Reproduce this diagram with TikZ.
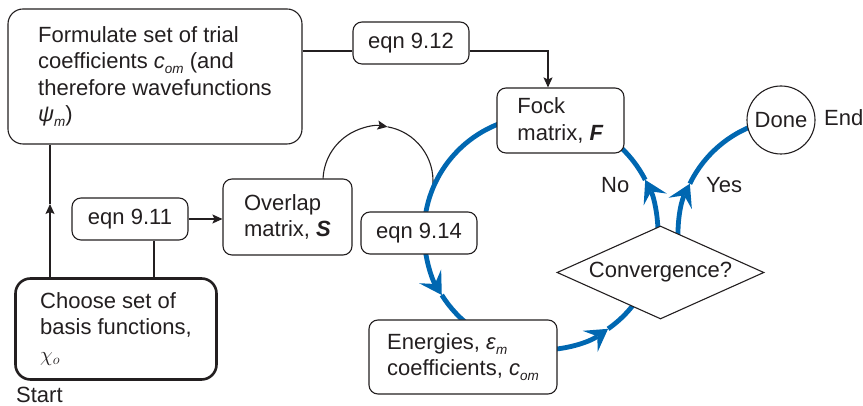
\documentclass[tikz,border=0pt]{standalone}
\usepackage{fontspec}
\setmainfont{Liberation Sans}
\usetikzlibrary{arrows.meta,shapes.geometric}
\definecolor{flowblue}{RGB}{0,103,177}
\definecolor{ink}{RGB}{35,31,32}
\newcommand\lowsub[1]{\raisebox{-5pt}{\fontsize{13.5}{13.5}\selectfont\itshape #1}}
\pgfdeclarelayer{background}
\pgfsetlayers{background,main}
\begin{document}
\begin{tikzpicture}[x=1pt,y=1pt,
  every node/.style={text=ink, font=\fontsize{22}{26.5}\selectfont},
  roundbox/.style={draw=ink, fill=white, line width=1.1pt, rounded corners=9pt, align=left, inner sep=0pt},
  eqnbox/.style={roundbox, minimum width=116pt, minimum height=42pt, align=center},
  plainconn/.style={draw=ink, line width=1.1pt},
  conn/.style={plainconn, -{Stealth[length=10pt,width=9pt,inset=2pt]}},
  blueflow/.style={draw=flowblue, line width=4.8pt},
  bluetip/.style={blueflow, -{Stealth[length=22pt,width=26pt,inset=9pt,line width=0pt]}},
]
\useasboundingbox (0,0) rectangle (863,406);

\node[roundbox, rounded corners=15pt, minimum width=294pt, minimum height=135pt] (formulate) at (155,329.5)
  {Formulate set of trial\\ coefficients \textit{c}\lowsub{om} (and\\ therefore wavefunctions\\ \textit{ψ}\lowsub{m})};
\node[eqnbox] (eqn912) at (411,363) {eqn 9.12};
\node[roundbox, minimum width=127pt, minimum height=65pt] (fock) at (560.5,285.5) {Fock\\ matrix, \textbf{\textit{F}}};
\node[draw=ink, fill=white, line width=1.1pt, circle, minimum size=68pt, inner sep=0pt] (done) at (781,286) {Done};
\node[anchor=base west, inner sep=0pt] (endlbl) at (824,280) {End};
\node[eqnbox] (eqn911) at (130,187) {eqn 9.11};
\node[roundbox, minimum width=129pt, minimum height=76pt] (overlap) at (287.5,189) {Overlap\\ matrix, \textbf{\textit{S}}};
\node[eqnbox] (eqn914) at (419,173) {eqn 9.14};
\node[roundbox, rounded corners=15pt, line width=2.6pt, minimum width=201pt, minimum height=101pt] (choose) at (116,77)
  {Choose set of\\ basis functions,\\ $\chi_o$};
\node[roundbox, minimum width=188pt, minimum height=74pt] (energies) at (463,49)
  {Energies, \textit{ε}\lowsub{m}\\ coefficients, \textit{c}\lowsub{om}};
\node[diamond, draw=ink, fill=white, line width=1.1pt, aspect=2.2, minimum width=207pt, minimum height=93pt, inner sep=0pt] (conv) at (660.5,133.5) {Convergence?};
\node[anchor=base west, inner sep=0pt] (startlbl) at (16,3.5) {Start};
\node[anchor=base west, inner sep=0pt] (nolbl) at (601,213) {No};
\node[anchor=base west, inner sep=0pt] (yeslbl) at (706,213) {Yes};

\coordinate (hl) at (0,355);
\coordinate (vx) at (548,0);
\coordinate (c1) at (50,0);
\coordinate (c2) at (154,0);
\coordinate (upmid) at (50,202);
\coordinate (C) at (541,173);
\coordinate (Cy) at (795,171);
\coordinate (Ck) at (378,225);

\draw[plainconn] (formulate.east |- hl) -- (eqn912.west |- hl);
\draw[conn] (eqn912.east |- hl) -| (vx |- fock.north);
\draw[conn] (choose.north -| c1) -- (upmid);
\draw[plainconn] (upmid) -- (formulate.south -| c1);
\draw[plainconn] (choose.north -| c2) -- (eqn911.south -| c2);
\draw[conn] (eqn911.east) -- (overlap.west |- eqn911.east);

\begin{pgfonlayer}{background}
% black loop from Overlap into the cycle
\draw[conn] ([shift={(180:55)}]Ck) arc[start angle=180, end angle=80, radius=55];
\draw[plainconn] ([shift={(80:55)}]Ck) arc[start angle=80, end angle=-5, radius=55];
% Fock -> eqn 9.14
\draw[blueflow] ([shift={(100:117)}]C) arc[start angle=100, end angle=180, radius=117];
% eqn 9.14 -> Energies
\draw[bluetip] ([shift={(185:117)}]C) arc[start angle=185, end angle=212, radius=117];
\draw[blueflow] ([shift={(212:117)}]C) arc[start angle=212, end angle=235, radius=117];
% Energies -> Convergence?
\draw[bluetip] ([shift={(270:117)}]C) arc[start angle=270, end angle=305, radius=117];
\draw[blueflow] ([shift={(305:117)}]C) arc[start angle=305, end angle=330, radius=117];
% Convergence? -> Fock (No)
\draw[bluetip] ([shift={(0:117)}]C) arc[start angle=0, end angle=27, radius=117];
\draw[blueflow] ([shift={(27:117)}]C) arc[start angle=27, end angle=60, radius=117];
% Convergence? -> Done (Yes)
\draw[bluetip] ([shift={(185:117)}]Cy) arc[start angle=185, end angle=154, radius=117];
\draw[blueflow] ([shift={(154:117)}]Cy) arc[start angle=154, end angle=105, radius=117];
\end{pgfonlayer}
\end{tikzpicture}
\end{document}
